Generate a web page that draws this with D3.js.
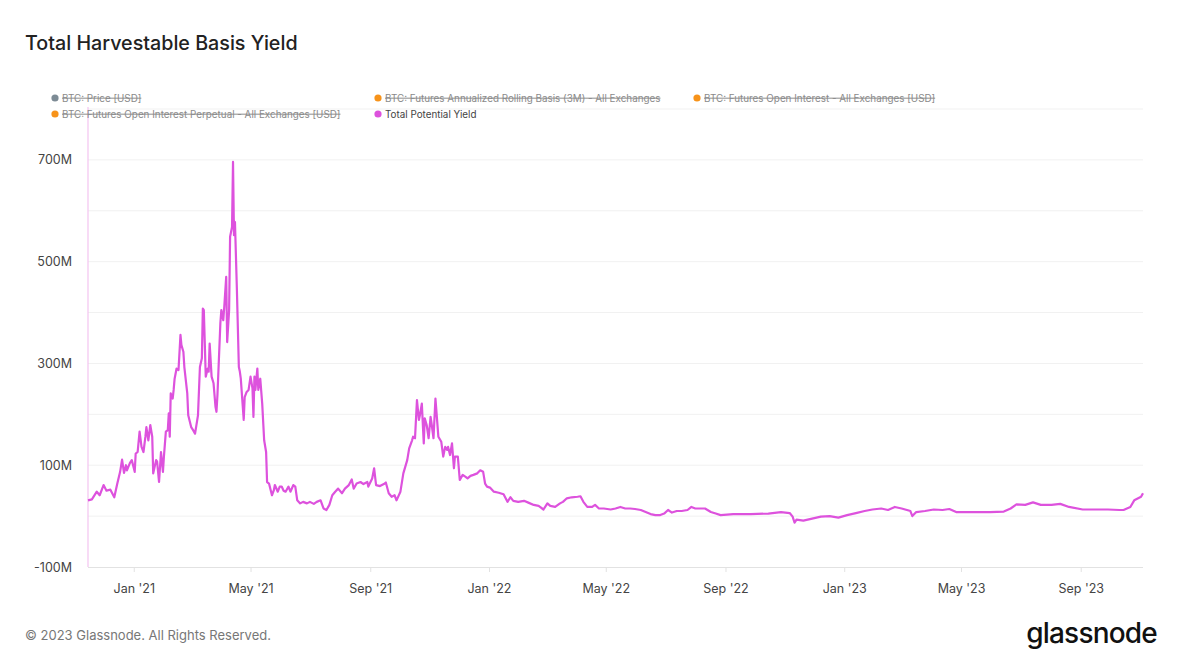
<!DOCTYPE html>
<html><head><meta charset="utf-8">
<script src="https://cdn.jsdelivr.net/npm/d3@7"></script>
<style>
html,body{margin:0;padding:0;background:#fff;}
svg{display:block;font-family:Inter,"Noto Sans",sans-serif;}
</style></head>
<body><svg id="chart" width="1182" height="665"></svg>
<script>
const dates = ["2020-11-15","2020-11-19","2020-11-24","2020-11-27","2020-12-01","2020-12-04","2020-12-08","2020-12-12","2020-12-15","2020-12-18","2020-12-20","2020-12-22","2020-12-24","2020-12-25","2020-12-28","2020-12-30",
"2021-01-02","2021-01-03","2021-01-05","2021-01-07","2021-01-09","2021-01-11","2021-01-13","2021-01-14","2021-01-16","2021-01-18","2021-01-20","2021-01-21","2021-01-24","2021-01-25","2021-01-27","2021-01-29","2021-01-31",
"2021-02-01","2021-02-03","2021-02-05","2021-02-06","2021-02-07","2021-02-08","2021-02-10","2021-02-11","2021-02-12","2021-02-14","2021-02-16","2021-02-18","2021-02-19","2021-02-21","2021-02-22","2021-02-25","2021-02-26",
"2021-03-01","2021-03-03","2021-03-05","2021-03-08","2021-03-10","2021-03-12","2021-03-13","2021-03-14","2021-03-16","2021-03-18","2021-03-19","2021-03-20","2021-03-22","2021-03-24","2021-03-26","2021-03-27","2021-03-28","2021-03-31",
"2021-04-01","2021-04-03","2021-04-04","2021-04-06","2021-04-07","2021-04-09","2021-04-10","2021-04-12","2021-04-13","2021-04-14","2021-04-15","2021-04-17","2021-04-19","2021-04-20","2021-04-21","2021-04-24","2021-04-25","2021-04-27","2021-04-29",
"2021-05-01","2021-05-03","2021-05-04","2021-05-05","2021-05-06","2021-05-08","2021-05-09","2021-05-11","2021-05-13","2021-05-15","2021-05-17","2021-05-18","2021-05-20","2021-05-23","2021-05-25","2021-05-26","2021-05-29","2021-05-31",
"2021-06-02","2021-06-04","2021-06-06","2021-06-09","2021-06-11","2021-06-14","2021-06-16","2021-06-18","2021-06-21","2021-06-24","2021-06-28",
"2021-07-01","2021-07-05","2021-07-08","2021-07-12","2021-07-15","2021-07-18","2021-07-21","2021-07-24","2021-07-27","2021-07-30",
"2021-08-03","2021-08-06","2021-08-10","2021-08-13","2021-08-15","2021-08-18","2021-08-22","2021-08-25","2021-08-29","2021-08-30",
"2021-09-03","2021-09-05","2021-09-07","2021-09-11","2021-09-15","2021-09-17","2021-09-20","2021-09-23","2021-09-26","2021-09-28",
"2021-10-02","2021-10-05","2021-10-09","2021-10-11","2021-10-14","2021-10-15","2021-10-17","2021-10-19","2021-10-21","2021-10-22","2021-10-24","2021-10-26","2021-10-27","2021-10-29","2021-10-31",
"2021-11-02","2021-11-03","2021-11-05","2021-11-07","2021-11-10","2021-11-13","2021-11-15","2021-11-17","2021-11-19","2021-11-20","2021-11-22","2021-11-24","2021-11-26","2021-11-27","2021-11-30",
"2021-12-02","2021-12-05","2021-12-08","2021-12-10","2021-12-13","2021-12-16","2021-12-20","2021-12-23","2021-12-26","2021-12-28","2021-12-30",
"2022-01-02","2022-01-06","2022-01-11","2022-01-16","2022-01-20","2022-01-23","2022-01-26","2022-01-31",
"2022-02-06","2022-02-11","2022-02-16","2022-02-21","2022-02-26","2022-03-02","2022-03-05","2022-03-10","2022-03-15","2022-03-18","2022-03-22","2022-03-27",
"2022-04-02","2022-04-05","2022-04-08","2022-04-12","2022-04-17","2022-04-20","2022-04-24","2022-04-29",
"2022-05-06","2022-05-11","2022-05-16","2022-05-21","2022-05-26","2022-05-31","2022-06-06","2022-06-11","2022-06-16","2022-06-21","2022-06-26","2022-06-30",
"2022-07-04","2022-07-08","2022-07-13","2022-07-18","2022-07-24","2022-07-28","2022-08-01","2022-08-06","2022-08-11","2022-08-17","2022-08-22","2022-08-27",
"2022-09-09","2022-09-27","2022-10-15","2022-10-28","2022-11-06","2022-11-09","2022-11-11","2022-11-13","2022-11-20","2022-11-29","2022-12-08","2022-12-17","2022-12-26",
"2023-01-04","2023-01-13","2023-01-22","2023-01-30","2023-02-08","2023-02-15","2023-02-22","2023-03-01","2023-03-10","2023-03-12","2023-03-16","2023-03-25",
"2023-04-03","2023-04-12","2023-04-19","2023-04-26","2023-05-05","2023-05-18","2023-05-31","2023-06-14","2023-06-21","2023-06-27",
"2023-07-06","2023-07-14","2023-07-22","2023-08-02","2023-08-11","2023-08-20","2023-09-03","2023-09-16","2023-09-29","2023-10-11","2023-10-15","2023-10-22","2023-10-26","2023-11-02","2023-11-04"];

const totalPotentialYield = [31,33,48,41,61,50,52,37,63,87,111,85,100,90,104,110,
87,123,126,166,136,126,156,175,149,179,156,84,110,107,67,126,87,
117,166,169,202,156,241,231,248,270,290,287,356,336,323,293,241,198,
175,169,162,198,293,310,408,405,274,290,284,339,274,261,215,205,238,379,
405,385,411,470,342,405,549,568,696,552,578,444,293,284,270,189,234,244,248,
274,251,195,274,248,290,248,270,221,149,126,67,64,41,51,61,48,58,
58,50,48,58,48,61,58,31,25,28,25,
28,24,28,31,15,12,22,41,48,54,
45,54,61,72,54,64,67,63,67,58,
74,94,61,59,63,66,45,38,41,31,
48,84,110,133,149,156,153,228,189,198,221,143,192,179,153,
195,182,153,231,156,146,117,136,130,136,120,143,94,117,117,
71,81,77,74,79,81,84,90,87,64,58,
56,48,46,43,28,37,30,28,
30,26,22,20,13,25,20,18,25,28,35,37,
38,39,28,18,18,22,15,15,
13,15,18,15,15,14,12,8,4,2,2,5,
12,7,10,10,12,18,15,15,15,8,5,2,
4,4,5,8,6,-1,-13,-7,-9,-5,-1,0,-3,
2,6,10,13,15,12,18,15,10,0,8,10,
13,12,14,8,8,8,8,9,15,23,
22,27,22,22,24,18,13,13,13,12,12,18,31,38,45];

const yTicks = [-100,0,100,200,300,400,500,600,700,800];
const yLabelTicks = [-100,100,300,500,700];
const xTickLabels = ["Jan '21","May '21","Sep '21","Jan '22","May '22","Sep '22","Jan '23","May '23","Sep '23"];
const xTickDates = ["2021-01-01","2021-05-01","2021-09-01","2022-01-01","2022-05-01","2022-09-01","2023-01-01","2023-05-01","2023-09-01"];

const legendItems = [
  {name:"BTC: Price [USD]", color:"#7d8b95", off:true},
  {name:"BTC: Futures Annualized Rolling Basis (3M) - All Exchanges", color:"#f7931a", off:true},
  {name:"BTC: Futures Open Interest - All Exchanges [USD]", color:"#f7931a", off:true},
  {name:"BTC: Futures Open Interest Perpetual - All Exchanges [USD]", color:"#f7931a", off:true},
  {name:"Total Potential Yield", color:"#dd52dd", off:false}
];

const parse = d3.timeParse("%Y-%m-%d");
const data = dates.map((d,i)=>({date:parse(d), v:totalPotentialYield[i]}));

const svg = d3.select("#chart");
const L = 88, R = 1143, T = 109, B = 567;

const x = d3.scaleTime().domain([parse("2020-11-15"), parse("2023-11-04")]).range([L, R]);
const y = d3.scaleLinear().domain([-100, 800]).range([B, T]);

// title
svg.append("text").attr("x",25).attr("y",50).attr("font-size",19.7).attr("fill","#222")
  .attr("font-weight",500).text("Total Harvestable Basis Yield");

// gridlines
svg.append("g").selectAll("line").data(yTicks.filter(t=>t>-100)).join("line")
  .attr("x1",L).attr("x2",R).attr("y1",d=>y(d)).attr("y2",d=>y(d))
  .attr("stroke","#f1f1f1").attr("stroke-width",1);

// y labels
const yAxis = d3.axisLeft(y).tickValues(yLabelTicks).tickSize(0).tickPadding(16)
  .tickFormat(d=>d+"M");
const gy = svg.append("g").attr("transform",`translate(${L},0)`).call(yAxis);
gy.select(".domain").remove();
gy.selectAll("text").attr("font-size",12.5).attr("fill","#444").attr("font-family","Inter,'Noto Sans',sans-serif");

// y axis line (pink)
svg.append("line").attr("x1",L).attr("x2",L).attr("y1",T-2).attr("y2",B)
  .attr("stroke","#f3c4f0").attr("stroke-width",1.2);

// x axis
const xAxis = d3.axisBottom(x).tickValues(xTickDates.map(parse)).tickSize(5).tickPadding(12)
  .tickFormat((d,i)=>xTickLabels[i]);
const gx = svg.append("g").attr("transform",`translate(0,${B})`).call(xAxis);
gx.select(".domain").attr("stroke","#e2e2e2").attr("d",`M${L},0.5H${R}`);
gx.selectAll(".tick line").attr("stroke","#e2e2e2");
gx.selectAll("text").attr("font-size",12.5).attr("fill","#444").attr("font-family","Inter,'Noto Sans',sans-serif");

// line
const line = d3.line().x(d=>x(d.date)).y(d=>y(d.v));
svg.append("path").datum(data).attr("d",line).attr("fill","none")
  .attr("stroke","#dd52dd").attr("stroke-width",2.2).attr("stroke-linejoin","round");

// legend
const legPos = [[53,98],[376,98],[695,98],[53,114],[376,114]];
const lg = svg.append("g");
legendItems.forEach((it,i)=>{
  const [lx,ly] = legPos[i];
  lg.append("circle").attr("cx",lx+2).attr("cy",ly).attr("r",3.6).attr("fill",it.color);
  const t = lg.append("text").attr("x",lx+9).attr("y",ly+3.5).attr("font-size",9.85)
    .attr("fill", it.off ? "#8a8a8a" : "#444").text(it.name);
  if (it.off) t.attr("text-decoration","line-through");
});

// footer
svg.append("text").attr("x",25).attr("y",640).attr("font-size",13).attr("fill","#777")
  .text("\u00A9 2023 Glassnode. All Rights Reserved.");
svg.append("text").attr("x",1157).attr("y",643).attr("text-anchor","end").attr("font-size",28)
  .attr("fill","#111").attr("font-weight",500).attr("letter-spacing",-0.8).text("glassnode");
</script>
</body></html>
